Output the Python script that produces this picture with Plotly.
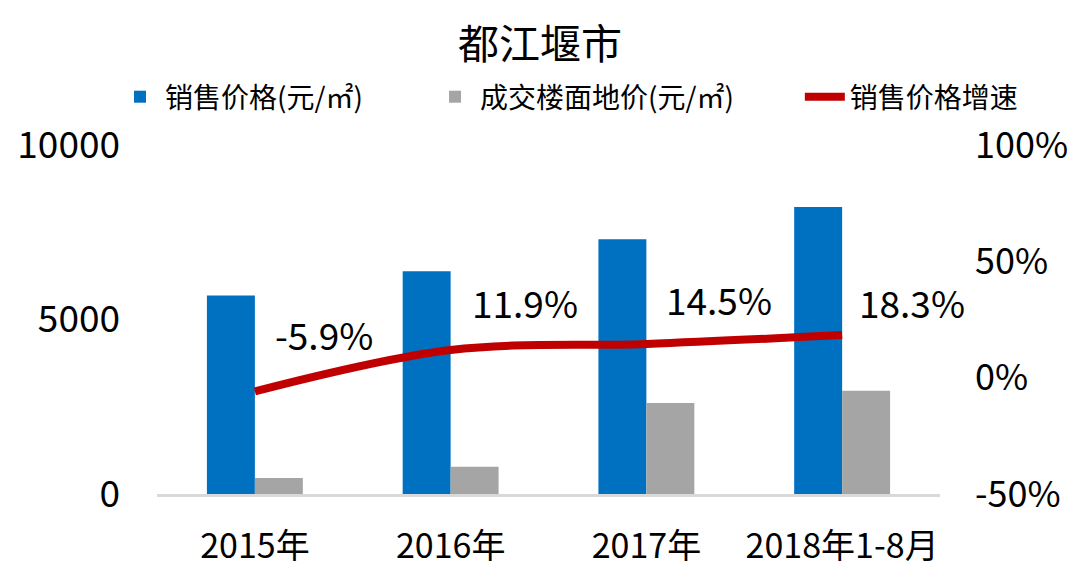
import plotly.graph_objects as go

categories = ["2015年", "2016年", "2017年", "2018年1-8月"]
sale_price = [5690, 6380, 7300, 8220]
land_price = [460, 780, 2610, 2960]
price_growth = [-0.059, 0.119, 0.145, 0.183]
growth_labels = ["-5.9%", "11.9%", "14.5%", "18.3%"]
left_ticks = [0, 5000, 10000]
left_tick_text = ["0", "5000", "10000"]
right_ticks = [-0.5, 0, 0.5, 1.0]
right_tick_text = ["-50%", "0%", "50%", "100%"]

label_xshift = [69, 74, 73, 70]
label_yshift = [57, 48, 45, 33]

FONT = "Noto Sans CJK SC"

fig = go.Figure()
fig.add_trace(go.Bar(x=categories, y=sale_price, name="销售价格(元/㎡)", legend="legend",
                     marker=dict(color="#0070C0", line=dict(width=0))))
fig.add_trace(go.Bar(x=categories, y=land_price, name="成交楼面地价(元/㎡)", legend="legend2",
                     marker=dict(color="#A5A5A5", line=dict(width=0))))
fig.add_trace(go.Scatter(x=categories, y=price_growth, name="销售价格增速", legend="legend3",
                         yaxis="y2", mode="lines",
                         line=dict(color="#C00000", width=8, shape="spline", smoothing=1)))

for c, v, t, dx, dy in zip(categories, price_growth, growth_labels, label_xshift, label_yshift):
    fig.add_annotation(x=c, y=v, xref="x", yref="y2", text=t, showarrow=False,
                       xshift=dx, yshift=dy, font=dict(size=37, color="#000000", family=FONT))

legend_common = dict(orientation="h", xanchor="left", y=1.1375, yanchor="middle",
                     font=dict(size=28, color="#000000", family=FONT), itemwidth=40,
                     bgcolor="rgba(0,0,0,0)")

fig.update_layout(
    width=1080, height=580,
    margin=dict(l=157, r=140, t=145, b=86, autoexpand=False),
    paper_bgcolor="white", plot_bgcolor="white",
    font=dict(family=FONT, color="#000000"),
    title=dict(text="都江堰市", x=0.5, xanchor="center", y=1 - 45 / 580, yanchor="middle",
               yref="container", font=dict(size=41, color="#000000", family=FONT)),
    barmode="group", bargap=0.51, bargroupgap=0,
    showlegend=True,
    legend=dict(x=-0.0536, **legend_common),
    legend2=dict(x=0.3487, **legend_common),
    legend3=dict(x=0.821, **legend_common),
    xaxis=dict(range=[-0.5, len(categories) - 0.5], autorange=False,
               showgrid=False, showline=True, linecolor="#D9D9D9", linewidth=3,
               ticks="", tickfont=dict(size=34, family=FONT), ticklabelstandoff=20,
               automargin=False),
    yaxis=dict(range=[0, 10000], tickvals=left_ticks, ticktext=left_tick_text,
               showgrid=False, zeroline=False, showline=False,
               ticks="", tickfont=dict(size=37, family=FONT), ticklabelstandoff=36,
               automargin=False),
    yaxis2=dict(range=[-0.5, 1.0], tickvals=right_ticks, ticktext=right_tick_text,
                overlaying="y", side="right",
                showgrid=False, zeroline=False, showline=False, ticks="",
                tickfont=dict(size=36, family=FONT), ticklabelstandoff=34,
                automargin=False),
)

fig.write_html("out.html", config={"displayModeBar": False},
               post_script="document.body.style.margin='0';document.body.style.overflow='hidden';")
